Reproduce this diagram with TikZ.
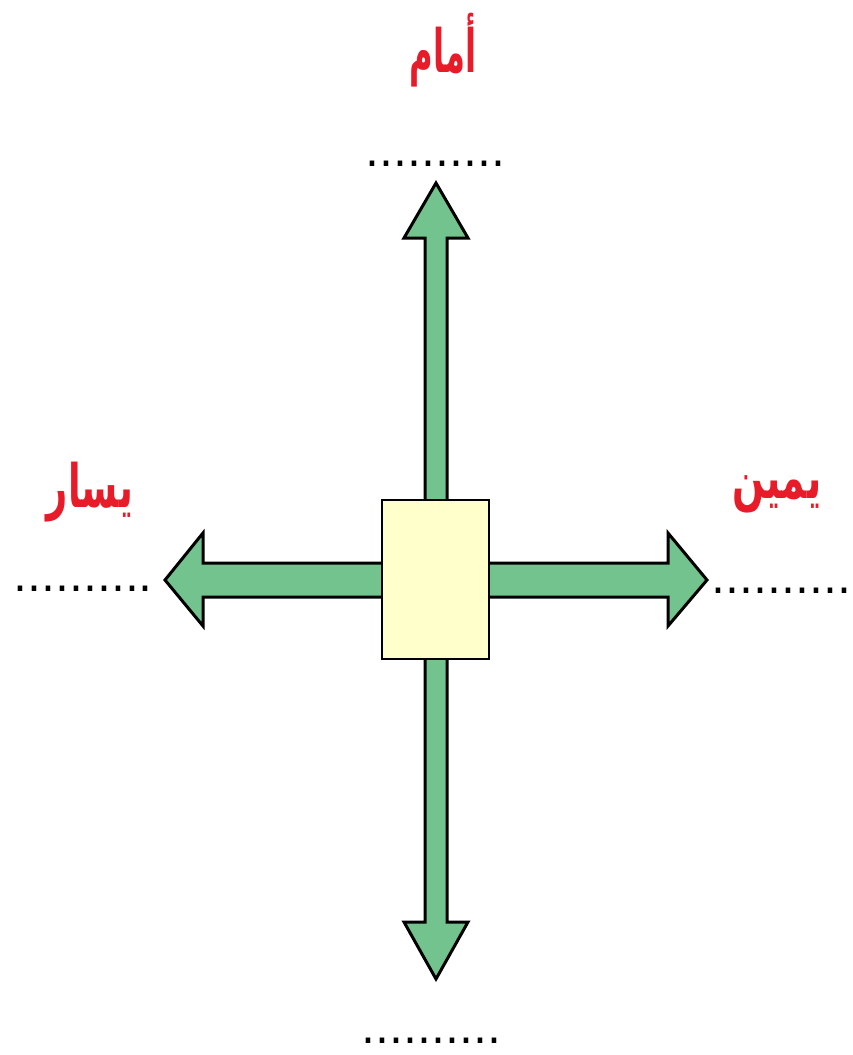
\documentclass[tikz,border=0pt]{standalone}
\usepackage{fontspec}
\usepackage{graphicx}
\TeXXeTstate=1
\newfontfamily\arabicfont[Script=Arabic]{DejaVu Sans}
\newfontfamily\dotfont{DejaVu Sans}
\definecolor{arrowgreen}{RGB}{115,195,142}
\definecolor{boxyellow}{RGB}{255,255,204}
\definecolor{labelred}{RGB}{232,28,40}
\tikzset{
  bigarrow/.style={fill=arrowgreen, draw=black, line width=3pt, line join=miter},
  centerbox/.style={draw=black, fill=boxyellow, line width=1.8pt, inner sep=0pt, minimum width=107pt, minimum height=159pt},
  dirlabel/.style={text=labelred, inner sep=0pt, font=\arabicfont\bfseries\fontsize{46}{54}\selectfont},
  dotline/.style={inner sep=0pt, anchor=base, font=\dotfont\fontsize{44}{50}\selectfont}
}
\begin{document}
\begin{tikzpicture}[x=1pt,y=-1pt]
\useasboundingbox (0,0) rectangle (852,1055);
% arrows
\draw[bigarrow] (425,510) -- (425,238) -- (404,238) -- (436,183) -- (468,238) -- (447,238) -- (447,510) -- cycle;
\draw[bigarrow] (425,650) -- (425,922) -- (404,922) -- (436,979) -- (468,922) -- (447,922) -- (447,650) -- cycle;
\draw[bigarrow] (392,563) -- (203,563) -- (203,533) -- (165,580) -- (203,626) -- (203,597) -- (392,597) -- cycle;
\draw[bigarrow] (480,563) -- (668,563) -- (668,533) -- (707,580) -- (668,626) -- (668,597) -- (480,597) -- cycle;
% center box
\node[centerbox] (box) at (435.5,579.5) {};
% labels
\node[dirlabel] (front) at (443,50) {\scalebox{0.7}[1.3]{\beginR أمام\endR}};
\node[dirlabel] (left) at (90,492) {\scalebox{0.8}[1.3]{\beginR يسار\endR}};
\node[dirlabel] (right) at (777,494) {\scalebox{0.82}[1.3]{\beginR يمين\endR}};
% dotted blanks
\node[dotline] (dtop) at (435,166) {..........};
\node[dotline] (dleft) at (83,591) {..........};
\node[dotline] (dright) at (781,593) {..........};
\node[dotline] (dbottom) at (431,1043) {..........};
\end{tikzpicture}
\end{document}
